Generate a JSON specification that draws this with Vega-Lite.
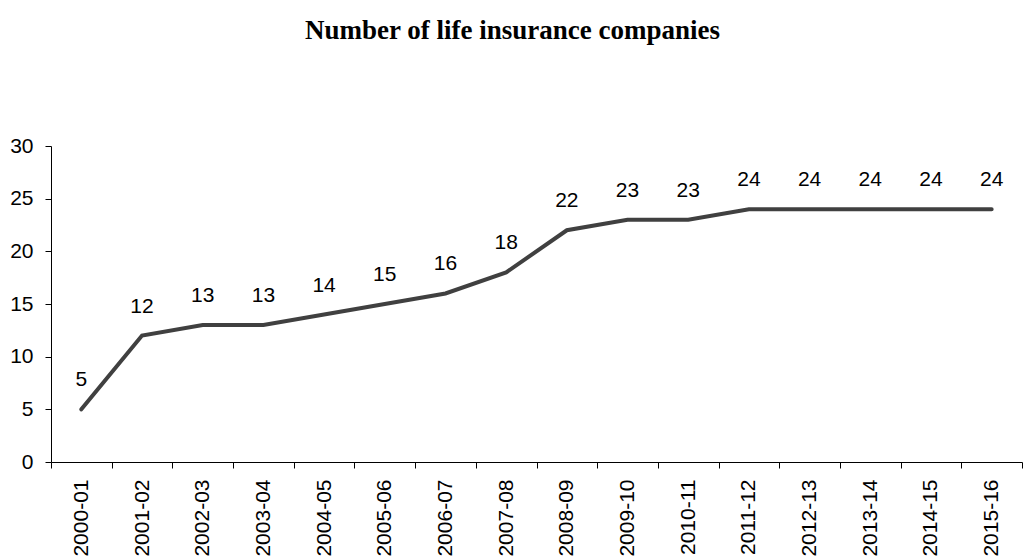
{
  "$schema": "https://vega.github.io/schema/vega-lite/v6.json",
  "autosize": "none",
  "width": 971,
  "height": 316,
  "padding": {"left": 51, "top": 146, "right": 1, "bottom": 97},
  "background": "white",
  "title": {
    "text": "Number of life insurance companies",
    "font": "Liberation Serif",
    "fontSize": 27,
    "fontWeight": "bold",
    "color": "black",
    "anchor": "middle",
    "frame": "group",
    "dx": -24,
    "offset": 90
  },
  "data": {
    "values": [
      {"year": "2000-01", "count": 5},
      {"year": "2001-02", "count": 12},
      {"year": "2002-03", "count": 13},
      {"year": "2003-04", "count": 13},
      {"year": "2004-05", "count": 14},
      {"year": "2005-06", "count": 15},
      {"year": "2006-07", "count": 16},
      {"year": "2007-08", "count": 18},
      {"year": "2008-09", "count": 22},
      {"year": "2009-10", "count": 23},
      {"year": "2010-11", "count": 23},
      {"year": "2011-12", "count": 24},
      {"year": "2012-13", "count": 24},
      {"year": "2013-14", "count": 24},
      {"year": "2014-15", "count": 24},
      {"year": "2015-16", "count": 24}
    ]
  },
  "encoding": {
    "x": {
      "field": "year",
      "type": "ordinal",
      "sort": null,
      "scale": {"type": "band", "paddingInner": 0, "paddingOuter": 0},
      "axis": {
        "title": null,
        "labelAngle": -90,
        "labelAlign": "right",
        "labelBaseline": "middle",
        "labelFont": "Liberation Sans",
        "labelFontSize": 21,
        "labelColor": "black",
        "labelPadding": 11,
        "tickBand": "extent",
        "tickSize": 6,
        "tickColor": "black",
        "domainColor": "black",
        "grid": false
      }
    },
    "y": {
      "field": "count",
      "type": "quantitative",
      "scale": {"domain": [0, 30], "nice": false},
      "axis": {
        "title": null,
        "values": [0, 5, 10, 15, 20, 25, 30],
        "labelFont": "Liberation Sans",
        "labelFontSize": 21,
        "labelColor": "black",
        "labelPadding": 12,
        "tickSize": 6,
        "tickColor": "black",
        "domainColor": "black",
        "grid": false
      }
    }
  },
  "layer": [
    {
      "mark": {"type": "line", "color": "#404040", "strokeWidth": 4, "strokeCap": "round"}
    },
    {
      "mark": {"type": "text", "font": "Liberation Sans", "fontSize": 21, "color": "black", "baseline": "middle", "dy": -29},
      "encoding": {"text": {"field": "count", "type": "quantitative"}}
    }
  ],
  "config": {"view": {"stroke": null}}
}
